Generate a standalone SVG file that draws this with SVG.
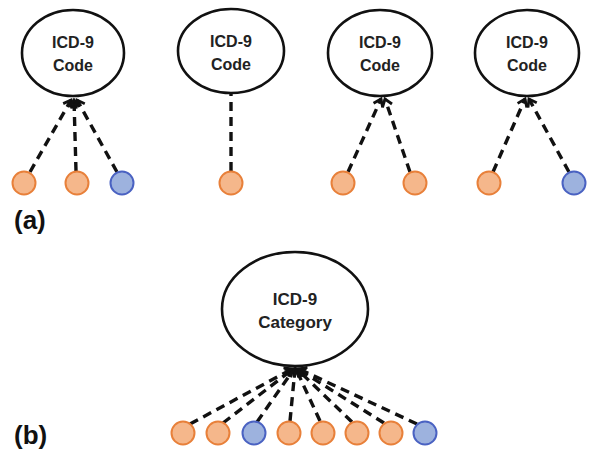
<svg xmlns="http://www.w3.org/2000/svg" width="600" height="458" viewBox="0 0 600 458">
<defs>
<marker id="arr" markerUnits="userSpaceOnUse" markerWidth="14" markerHeight="14" refX="0" refY="0" viewBox="-8 -7 10 14" orient="auto">
<path d="M -7 -5 L 0 0 L -7 5" fill="none" stroke="#111" stroke-width="2.8"/>
</marker>
<style>
.big{fill:#fff;stroke:#111;stroke-width:2.6}
.o{fill:#f5b78b;stroke:#e8803a;stroke-width:2}
.b{fill:#9db2de;stroke:#4a62c2;stroke-width:2}
.t{font-family:"Liberation Sans",Arial,sans-serif;font-weight:bold;font-size:16px;fill:#222;text-anchor:middle}
.tb{font-size:17px}
.lab{font-family:"Liberation Sans",Arial,sans-serif;font-weight:bold;font-size:26px;fill:#111}
.c{fill:none;stroke:#111;stroke-width:3.4;stroke-dasharray:9 6}
</style>
</defs>
<g id="connectors">
<line class="c" x1="30" y1="172" x2="71" y2="100" marker-end="url(#arr)"/>
<line class="c" x1="76" y1="171" x2="74" y2="100" marker-end="url(#arr)"/>
<line class="c" x1="117" y1="172" x2="77" y2="100" marker-end="url(#arr)"/>
<line class="c" x1="231" y1="171" x2="231" y2="94"/>
<line class="c" x1="348" y1="172" x2="381" y2="99" marker-end="url(#arr)"/>
<line class="c" x1="410" y1="172" x2="385" y2="99" marker-end="url(#arr)"/>
<line class="c" x1="493" y1="172" x2="525" y2="99" marker-end="url(#arr)"/>
<line class="c" x1="569" y1="172" x2="529" y2="99" marker-end="url(#arr)"/>
<line class="c" x1="190" y1="424" x2="292" y2="369" marker-end="url(#arr)"/>
<line class="c" x1="223" y1="423" x2="293" y2="369" marker-end="url(#arr)"/>
<line class="c" x1="257" y1="422" x2="294" y2="369" marker-end="url(#arr)"/>
<line class="c" x1="290" y1="421" x2="295" y2="369" marker-end="url(#arr)"/>
<line class="c" x1="320" y1="421" x2="296" y2="369" marker-end="url(#arr)"/>
<line class="c" x1="352" y1="422" x2="297" y2="369" marker-end="url(#arr)"/>
<line class="c" x1="384" y1="423" x2="298" y2="369" marker-end="url(#arr)"/>
<line class="c" x1="417" y1="424" x2="299" y2="369" marker-end="url(#arr)"/>
</g>
<g id="code1"><ellipse class="big" cx="73" cy="53" rx="51" ry="43"/><text class="t" x="73" y="48">ICD-9</text><text class="t" x="73" y="71">Code</text></g>
<g id="code2"><ellipse class="big" cx="231" cy="51" rx="53" ry="42"/><text class="t" x="231" y="47">ICD-9</text><text class="t" x="231" y="70">Code</text></g>
<g id="code3"><ellipse class="big" cx="380" cy="53" rx="52" ry="43"/><text class="t" x="380" y="48">ICD-9</text><text class="t" x="380" y="71">Code</text></g>
<g id="code4"><ellipse class="big" cx="527" cy="53" rx="52" ry="43"/><text class="t" x="527" y="48">ICD-9</text><text class="t" x="527" y="71">Code</text></g>
<g id="a1"><circle class="o" cx="24" cy="183" r="11.5"/></g>
<g id="a2"><circle class="o" cx="77" cy="183" r="11.5"/></g>
<g id="a3"><circle class="b" cx="122" cy="183" r="11.5"/></g>
<g id="a4"><circle class="o" cx="231" cy="183" r="11.5"/></g>
<g id="a5"><circle class="o" cx="343" cy="183" r="11.5"/></g>
<g id="a6"><circle class="o" cx="415" cy="183" r="11.5"/></g>
<g id="a7"><circle class="o" cx="489" cy="183" r="11.5"/></g>
<g id="a8"><circle class="b" cx="574" cy="183" r="11.5"/></g>
<g id="labA"><text class="lab" x="14" y="229">(a)</text></g>
<g id="category"><ellipse class="big" cx="295" cy="309" rx="73" ry="57"/><text class="t tb" x="295" y="305">ICD-9</text><text class="t tb" x="295" y="328">Category</text></g>
<g id="b1"><circle class="o" cx="183" cy="433" r="11.5"/></g>
<g id="b2"><circle class="o" cx="218" cy="433" r="11.5"/></g>
<g id="b3"><circle class="b" cx="254" cy="433" r="11.5"/></g>
<g id="b4"><circle class="o" cx="289" cy="433" r="11.5"/></g>
<g id="b5"><circle class="o" cx="323" cy="433" r="11.5"/></g>
<g id="b6"><circle class="o" cx="357" cy="433" r="11.5"/></g>
<g id="b7"><circle class="o" cx="391" cy="433" r="11.5"/></g>
<g id="b8"><circle class="b" cx="425" cy="433" r="11.5"/></g>
<g id="labB"><text class="lab" x="14" y="444">(b)</text></g>
</svg>
